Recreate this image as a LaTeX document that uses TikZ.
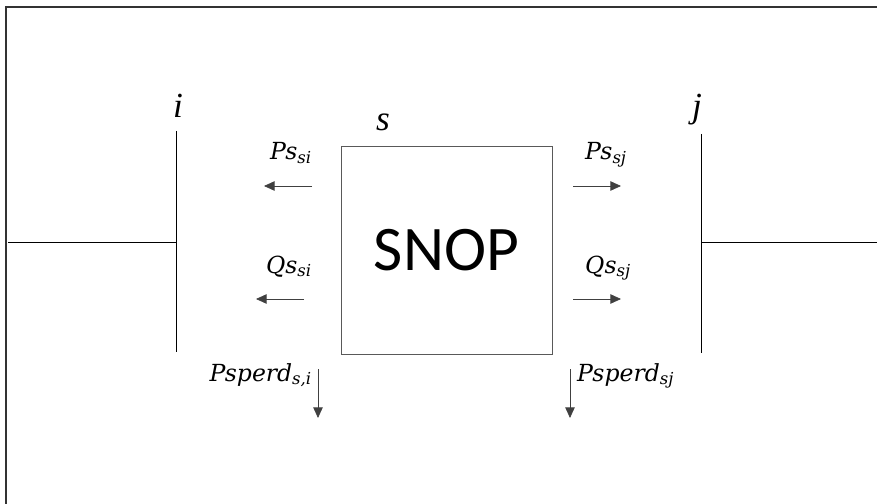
\documentclass[tikz,border=0pt]{standalone}
\usepackage{fontspec}
\setmainfont{Liberation Serif}
\newfontfamily\snopfont{Carlito}
\newfontfamily\flowfont{DejaVu Serif}
\usetikzlibrary{arrows.meta,positioning}
\newcommand{\flowtxt}[2]{#1\textsubscript{#2}}
\tikzset{
  frame/.style={line width=1.2pt,draw=black!80},
  bus/.style={line width=0.8pt,draw=black},
  flow/.style={-{Triangle[length=9pt,width=8pt]},line width=0.6pt,draw=black!75},
  flowlbl/.style={font=\flowfont\fontsize{20}{20}\selectfont\itshape,inner sep=0pt},
  buslbl/.style={font=\fontsize{30}{30}\selectfont\itshape,inner sep=0pt},
  snopbox/.style={draw=black!65,line width=0.8pt,font=\fontsize{54}{54}\snopfont,inner sep=0pt}
}
\begin{document}
\begin{tikzpicture}[x=0.85pt,y=-0.85pt]
  \useasboundingbox (0,0) rectangle (877,504);
  % frame
  \coordinate (fa) at (6,504);
  \coordinate (fb) at (6,7);
  \coordinate (fc) at (877,7);
  \draw[frame] (fa) -- (fb) -- (fc);
  % buses
  \coordinate (itop) at (176,131);
  \coordinate (ibot) at (176,352);
  \coordinate (ifeed) at (8,242);
  \coordinate (jtop) at (701,134);
  \coordinate (jbot) at (701,353);
  \coordinate (jfeed) at (877,242);
  \draw[bus] (itop) -- (ibot);
  \draw[bus] (ifeed) -- (ifeed-|itop);
  \draw[bus] (jtop) -- (jbot);
  \draw[bus] (jfeed) -- (jfeed-|jtop);
  \node[buslbl,anchor=base] (ilbl) at (178,118) {i};
  \node[buslbl,anchor=base] (jlbl) at (697,118) {j};
  % converter
  \node[snopbox,minimum width=179.4pt,minimum height=176.8pt] (snop) at (446.5,250) {SNOP};
  \node[buslbl,anchor=base] (slbl) at (383,131) {s};
  % flows
  \coordinate (psi0) at (312,186);  \coordinate (psi1) at (264,186);
  \coordinate (qsi0) at (304,299);  \coordinate (qsi1) at (256,299);
  \coordinate (psj0) at (573,186);  \coordinate (psj1) at (621,186);
  \coordinate (qsj0) at (573,299);  \coordinate (qsj1) at (621,299);
  \coordinate (lsi0) at (318,369);  \coordinate (lsi1) at (318,418);
  \coordinate (lsj0) at (570,369);  \coordinate (lsj1) at (570,418);
  \foreach \a/\b in {psi0/psi1,qsi0/qsi1,psj0/psj1,qsj0/qsj1,lsi0/lsi1,lsj0/lsj1}{\draw[flow] (\a) -- (\b);}
  \node[flowlbl,anchor=base east] (pslbl) at (312,160) {\flowtxt{Ps}{si}};
  \node[flowlbl,anchor=base east] (qslbl) at (312,273) {\flowtxt{Qs}{si}};
  \node[flowlbl,anchor=base west] (pjlbl) at (585,160) {\flowtxt{Ps}{sj}};
  \node[flowlbl,anchor=base west] (qjlbl) at (585,273) {\flowtxt{Qs}{sj}};
  \node[flowlbl,anchor=base east] (lilbl) at (312,381) {\flowtxt{Psperd}{s,i}};
  \node[flowlbl,anchor=base west] (ljlbl) at (577,381) {\flowtxt{Psperd}{sj}};
\end{tikzpicture}
\end{document}
